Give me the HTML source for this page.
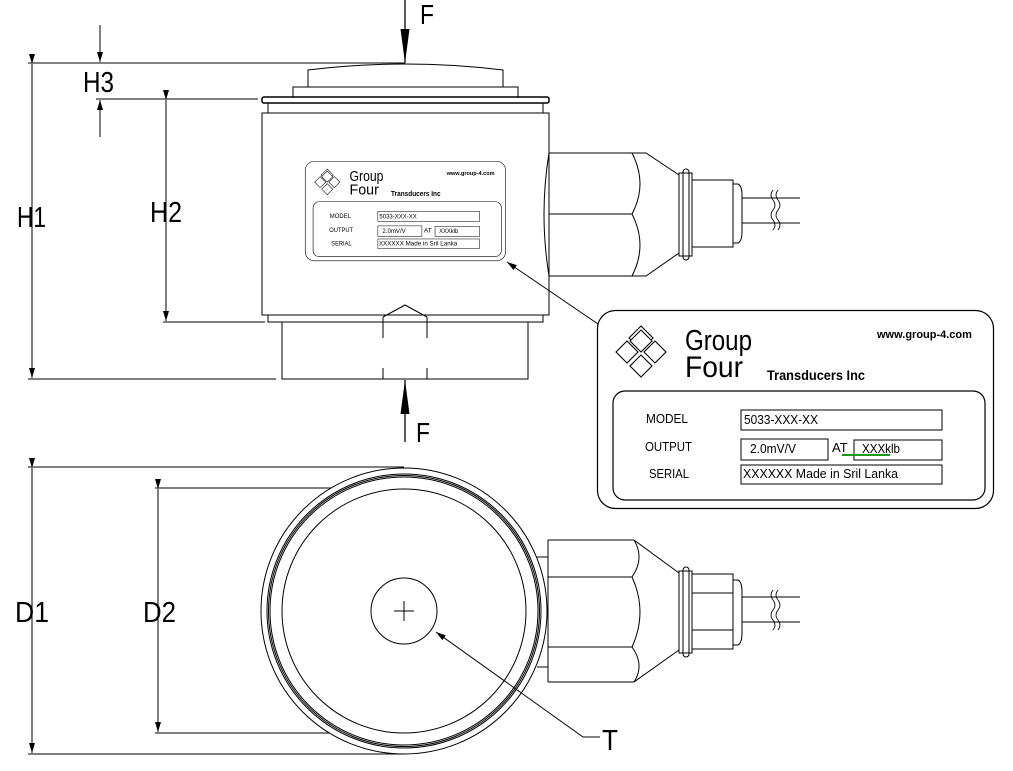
<!DOCTYPE html>
<html><head><meta charset="utf-8"><style>
html,body{margin:0;padding:0;background:#fff;width:1013px;height:771px;overflow:hidden}
svg{display:block}
text{font-family:"Liberation Sans",sans-serif;fill:#000}
</style></head><body>
<svg width="1013" height="771" viewBox="0 0 1013 771" xmlns="http://www.w3.org/2000/svg">
<defs>
<marker id="ah" markerWidth="10" markerHeight="10" refX="10" refY="5" orient="auto" markerUnits="userSpaceOnUse" viewBox="0 0 10 10"><path d="M0,2 L10,5 L0,8 Z" fill="#000"/></marker>
<marker id="ahs" markerWidth="34" markerHeight="12" refX="34" refY="6" orient="auto" markerUnits="userSpaceOnUse"><path d="M0,1.5 L34,6 L0,10.5 Z" fill="#000"/></marker>
<g id="label">
<rect x="0.5" y="0.5" width="396" height="198" rx="18" fill="#fff" stroke="#000" stroke-width="1.2"/>
<rect x="16" y="81" width="372" height="109" rx="12" fill="none" stroke="#000" stroke-width="1.2"/>
<g fill="#fff" stroke="#000" stroke-width="1.1">
<path d="M44,16 L56,28 L52,32 L44,24 L36,32 L32,28 Z"/>
<path d="M44,20 l11,11 l-11,11 l-11,-11 z"/>
<path d="M58,31 l11,11 l-11,11 l-11,-11 z"/>
<path d="M44,45 l11,11 l-11,11 l-11,-11 z"/>
<path d="M30,31 l11,11 l-11,11 l-11,-11 z"/>
</g>
<text x="88" y="40" font-size="29" textLength="67" lengthAdjust="spacingAndGlyphs">Group</text>
<text x="88" y="67" font-size="30" textLength="58" lengthAdjust="spacingAndGlyphs">Four</text>
<text x="170" y="70" font-size="14" font-weight="bold" textLength="98" lengthAdjust="spacingAndGlyphs">Transducers Inc</text>
<text x="280" y="28" font-size="11" font-weight="bold">www.group-4.com</text>
<text x="49" y="113" font-size="13" textLength="42" lengthAdjust="spacingAndGlyphs">MODEL</text>
<rect x="144" y="100" width="201" height="20" fill="none" stroke="#000"/>
<text x="147" y="114" font-size="13" textLength="74" lengthAdjust="spacingAndGlyphs">5033-XXX-XX</text>
<text x="48" y="141" font-size="13" textLength="47" lengthAdjust="spacingAndGlyphs">OUTPUT</text>
<rect x="144" y="129" width="87" height="21" fill="none" stroke="#000"/>
<text x="153" y="143" font-size="13" textLength="46" lengthAdjust="spacingAndGlyphs">2.0mV/V</text>
<text x="235" y="142" font-size="13">AT</text>
<rect x="257" y="130" width="88" height="20" fill="none" stroke="#000"/>
<text x="265" y="143" font-size="13" textLength="38" lengthAdjust="spacingAndGlyphs">XXXklb</text>
<text x="52" y="168" font-size="13" textLength="40" lengthAdjust="spacingAndGlyphs">SERIAL</text>
<rect x="144" y="155" width="201" height="19" fill="none" stroke="#000"/>
<text x="146" y="168" font-size="13" textLength="155" lengthAdjust="spacingAndGlyphs">XXXXXX Made in Sril Lanka</text>
</g>
</defs>

<g fill="none" stroke="#000" stroke-width="1">
<line x1="28" y1="63" x2="405" y2="63"/>
<line x1="28" y1="379" x2="276" y2="379"/>
<line x1="32" y1="64" x2="32" y2="378" marker-start="url(#ah)" marker-end="url(#ah)"/>
<line x1="96" y1="99" x2="258" y2="99"/>
<line x1="163" y1="322" x2="265" y2="322"/>
<line x1="166" y1="100" x2="166" y2="321" marker-start="url(#ah)" marker-end="url(#ah)"/>
<line x1="100" y1="25" x2="100" y2="62" marker-end="url(#ah)"/>
<line x1="100" y1="137" x2="100" y2="100" marker-end="url(#ah)"/>
<line x1="405" y1="0" x2="405" y2="63" marker-end="url(#ahs)" stroke-width="1.3"/>
<line x1="405" y1="442" x2="405" y2="380" marker-end="url(#ahs)" stroke-width="1.3"/>

<path d="M308,87 L308,70 Q405,58 503,70 L503,87"/>
<path d="M293,98 L293,87 L518,87 L518,98"/>
<rect x="262" y="97" width="287" height="6" rx="2" stroke-width="1.5"/>
<line x1="268" y1="103" x2="268" y2="113"/>
<line x1="543" y1="103" x2="543" y2="113"/>
<rect x="262" y="113" width="287" height="202"/>
<path d="M268,315 L268,322 L543,322 L543,315"/>
<rect x="282" y="322" width="246" height="57"/>
<path d="M383,317 L405,305 L427,317"/>
<path d="M383,317 L383,338 M383,368 L383,379 M427,317 L427,338 M427,368 L427,379"/>

<path d="M549,153 Q539,214 549,276"/>
<path d="M549,153 L646,153 L679,175 M549,276 L646,276 L679,253 M549,214 L632,214"/>
<path d="M632,153 Q648,184 632,214 Q648,245 632,276"/>
<rect x="679" y="173" width="13" height="83"/>
<rect x="683" y="169" width="6" height="91" rx="3"/>
<rect x="692" y="180" width="41" height="67"/>
<path d="M733,184 L738,184 Q742,186 742,195 L742,232 Q742,241 738,243 L733,243"/>
<path d="M742,198 L800,198 M742,223 L800,223"/>
<path d="M773,190 q-4,5 0,10 q4,5 0,10 q-4,5 0,10 q4,5 0,10 M778,190 q-4,5 0,10 q4,5 0,10 q-4,5 0,10 q4,5 0,10" stroke-width="0.8"/>

<line x1="598" y1="324" x2="507" y2="262" marker-end="url(#ah)"/>

<line x1="28" y1="467" x2="404" y2="467"/>
<line x1="28" y1="754" x2="404" y2="754"/>
<line x1="32" y1="468" x2="32" y2="753" marker-start="url(#ah)" marker-end="url(#ah)"/>
<line x1="155" y1="488" x2="404" y2="488"/>
<line x1="155" y1="733" x2="404" y2="733"/>
<line x1="158" y1="489" x2="158" y2="732" marker-start="url(#ah)" marker-end="url(#ah)"/>

<circle cx="404" cy="611" r="143" fill="#fff"/>
<circle cx="404" cy="611" r="137"/>
<circle cx="404" cy="611" r="135.5"/>
<circle cx="404" cy="611" r="134"/>
<circle cx="404" cy="611" r="122"/>
<circle cx="404" cy="611" r="33"/>
<path d="M394,611 L414,611 M404,601 L404,621"/>

<path d="M537,557 L548,557 M537,667 L548,667"/>
<path d="M548,540 L548,682"/>
<path d="M548,540 L634,540 L679,573 M548,682 L634,682 L679,650 M548,577 L632,577 M548,647 L632,647"/>
<path d="M634,540 Q645,558 632,577 Q648,612 632,647 Q645,665 634,682"/>
<rect x="679" y="571" width="13" height="82"/>
<rect x="683" y="567" width="6" height="90" rx="3"/>
<rect x="692" y="574" width="41" height="75"/>
<path d="M692,593 L733,593 M692,630 L733,630"/>
<path d="M733,580 L738,580 Q742,582 742,592 L742,633 Q742,643 738,645 L733,645"/>
<path d="M742,597 L800,597 M742,622 L800,622"/>
<path d="M773,590 q-4,5 0,10 q4,5 0,10 q-4,5 0,10 q4,5 0,10 M778,590 q-4,5 0,10 q4,5 0,10 q-4,5 0,10 q4,5 0,10" stroke-width="0.8"/>

<path d="M600,737 L583,737 L436,632" marker-end="url(#ah)"/>
</g>

<use href="#label" transform="translate(305,161) scale(0.506,0.503)"/>
<use href="#label" transform="translate(597,310)"/>
<line x1="842" y1="455" x2="890" y2="455" stroke="#1a9a1a" stroke-width="2"/>

<text x="420" y="24" font-size="28" textLength="14" lengthAdjust="spacingAndGlyphs">F</text>
<text x="416" y="442" font-size="28" textLength="14" lengthAdjust="spacingAndGlyphs">F</text>
<text x="83" y="92" font-size="29" textLength="31" lengthAdjust="spacingAndGlyphs">H3</text>
<text x="17" y="227" font-size="29" textLength="29" lengthAdjust="spacingAndGlyphs">H1</text>
<text x="150" y="222" font-size="29" textLength="32" lengthAdjust="spacingAndGlyphs">H2</text>
<text x="15" y="622" font-size="29" textLength="34" lengthAdjust="spacingAndGlyphs">D1</text>
<text x="143" y="622" font-size="29" textLength="33" lengthAdjust="spacingAndGlyphs">D2</text>
<text x="602" y="750" font-size="29" textLength="16" lengthAdjust="spacingAndGlyphs">T</text>
</svg>
</body></html>
